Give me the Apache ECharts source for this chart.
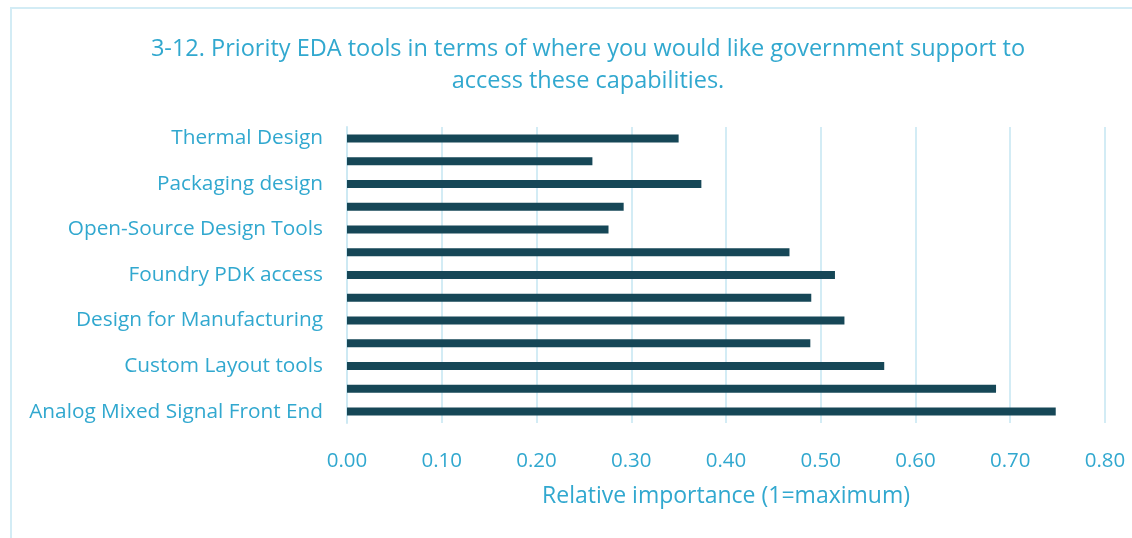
<!DOCTYPE html>
<html>
<head>
<meta charset="utf-8">
<script src="https://cdn.jsdelivr.net/npm/echarts@6/dist/echarts.min.js"></script>
<style>
html,body{margin:0;padding:0;background:#fff;}
#c{width:1132px;height:538px;}
</style>
</head>
<body>
<div id="c"></div>
<script>
// Bottom-to-top order (ECharts category y axis starts at the bottom)
var categories = [
  "Analog Mixed Signal Front End",
  "(unlabelled item 2)",
  "Custom Layout tools",
  "(unlabelled item 4)",
  "Design for Manufacturing",
  "(unlabelled item 6)",
  "Foundry PDK access",
  "(unlabelled item 8)",
  "Open-Source Design Tools",
  "(unlabelled item 10)",
  "Packaging design",
  "(unlabelled item 12)",
  "Thermal Design"
];
var values = [0.748, 0.685, 0.567, 0.489, 0.525, 0.490, 0.515, 0.467, 0.276, 0.292, 0.374, 0.259, 0.350];
var xTicks = { min: 0, max: 0.8, interval: 0.1 };
var titleText = "3-12. Priority EDA tools in terms of where you would like government support to\naccess these capabilities.";
var xAxisName = "Relative importance (1=maximum)";

var textColor = '#31a8cf';
var fontFam = 'Open Sans';
var chart = echarts.init(document.getElementById('c'), null, {renderer: 'canvas'});
chart.setOption({
  animation: false,
  backgroundColor: '#ffffff',
  title: {
    text: titleText,
    left: 583,
    top: 28,
    textAlign: 'center',
    textStyle: { color: textColor, fontFamily: fontFam, fontWeight: 'normal', fontSize: 23.5, lineHeight: 32 }
  },
  graphic: [
    { type: 'line', shape: { x1: 10, y1: 8, x2: 1132, y2: 8 }, style: { stroke: '#d3ecf5', lineWidth: 2 }, silent: true },
    { type: 'line', shape: { x1: 11, y1: 7, x2: 11, y2: 538 }, style: { stroke: '#d3ecf5', lineWidth: 2 }, silent: true }
  ],
  grid: { left: 347, right: 27, top: 127, bottom: 115, containLabel: false },
  xAxis: {
    type: 'value',
    min: xTicks.min, max: xTicks.max, interval: xTicks.interval,
    name: xAxisName,
    nameLocation: 'middle',
    nameGap: 62,
    nameTextStyle: { color: textColor, fontFamily: fontFam, fontSize: 23 },
    axisLine: { show: false },
    axisTick: { show: false },
    axisLabel: { color: textColor, fontFamily: fontFam, fontSize: 20.5, margin: 28,
      formatter: function (v) { return v.toFixed(2); } },
    splitLine: { show: true, lineStyle: { color: '#d3ecf5', width: 2 } }
  },
  yAxis: {
    type: 'category',
    data: categories,
    axisLine: { show: true, lineStyle: { color: '#cde9f3', width: 2 } },
    axisTick: { show: false },
    axisLabel: { interval: 1, color: textColor, fontFamily: fontFam, fontSize: 20.8, margin: 24 }
  },
  series: [{
    type: 'bar',
    data: values,
    barWidth: 8,
    itemStyle: { color: '#164757' }
  }]
});
</script>
</body>
</html>
